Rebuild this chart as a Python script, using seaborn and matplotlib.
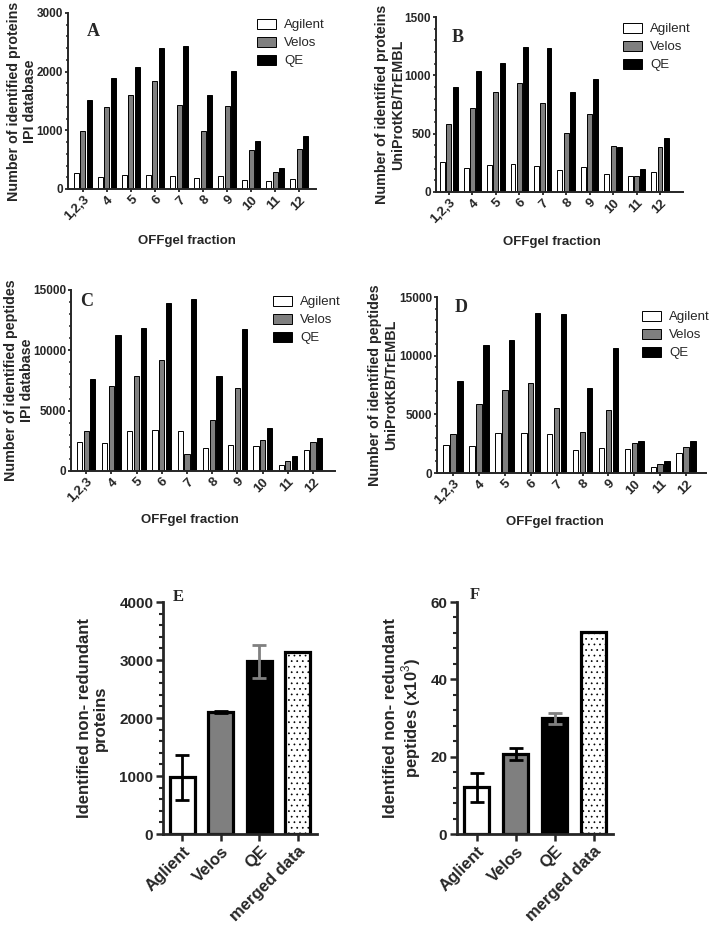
import pandas as pd
import matplotlib
matplotlib.use("Agg")
import matplotlib.pyplot as plt
from matplotlib.ticker import AutoMinorLocator, MultipleLocator
import seaborn as sns

# data
fractions = ['1,2,3', '4', '5', '6', '7', '8', '9', '10', '11', '12']
instruments = ['Agilent', 'Velos', 'QE']

# A: proteins, IPI database
a_agilent = [265, 210, 235, 245, 230, 195, 220, 155, 140, 175]
a_velos = [990, 1395, 1610, 1845, 1435, 995, 1410, 665, 290, 685]
a_qe = [1525, 1895, 2080, 2410, 2440, 1605, 2015, 815, 365, 905]
# B: proteins, UniProtKB/TrEMBL
b_agilent = [260, 205, 230, 240, 225, 190, 215, 155, 135, 170]
b_velos = [580, 720, 860, 935, 760, 505, 670, 395, 140, 385]
b_qe = [900, 1040, 1105, 1245, 1235, 855, 965, 390, 195, 460]
# C: peptides, IPI database
c_agilent = [2380, 2290, 3340, 3370, 3320, 1930, 2130, 2070, 500, 1710]
c_velos = [3290, 7020, 7870, 9170, 1440, 4200, 6900, 2600, 830, 2430]
c_qe = [7650, 11300, 11880, 13920, 14230, 7850, 11770, 3540, 1240, 2700]
# D: peptides, UniProtKB/TrEMBL
d_agilent = [2380, 2330, 3370, 3370, 3340, 1950, 2170, 2050, 520, 1730]
d_velos = [3330, 5870, 7050, 7650, 5580, 3530, 5400, 2540, 730, 2200]
d_qe = [7880, 10870, 11300, 13620, 13550, 7250, 10680, 2750, 1030, 2700]

# E / F: non-redundant totals
totals_cats = ['Aglient', 'Velos', 'QE', 'merged data']
e_proteins = [990, 2100, 2985, 3135]
e_err_low = [400, 15, 295, 0]
e_err_high = [380, 15, 280, 0]
f_peptides = [12.2, 20.7, 29.9, 52.3]
f_err_low = [3.8, 1.5, 1.4, 0]
f_err_high = [3.5, 1.5, 1.3, 0]

sns.set_style('ticks')
plt.rcParams['font.family'] = ['Liberation Sans', 'DejaVu Sans']
plt.rcParams['mathtext.fontset'] = 'custom'
plt.rcParams['mathtext.rm'] = 'Liberation Sans'
plt.rcParams['hatch.linewidth'] = 0.5

W, H = 716, 931
fig = plt.figure(figsize=(W / 100, H / 100), dpi=100)


def px_axes(l, r, t, b):
    return fig.add_axes([l / W, 1 - b / H, (r - l) / W, (b - t) / H])


def grouped(ax, ag, ve, qe, ymax, ystep, xlim, ylabel, ylab_x, xlab_x, xlab_y, leg_xy):
    df = pd.DataFrame({
        'fraction': fractions * 3,
        'instrument': [i for i in instruments for _ in fractions],
        'count': ag + ve + qe,
    })
    sns.barplot(data=df, x='fraction', y='count', hue='instrument',
                palette=['white', '#7f7f7f', 'black'], edgecolor='black',
                linewidth=0.7, width=0.8, gap=0.22, ax=ax)
    ax.set_ylim(0, ymax)
    ax.set_xlim(*xlim)
    ax.yaxis.set_major_locator(MultipleLocator(ystep))
    ax.yaxis.set_minor_locator(AutoMinorLocator(5))
    sns.despine(ax=ax)
    for s in ['left', 'bottom']:
        ax.spines[s].set_linewidth(1.4)
    ax.tick_params(axis='both', which='major', length=2.5, width=1.3, labelsize=8.5, pad=1)
    ax.tick_params(axis='y', which='minor', length=1.8, width=1.1)
    for lab in ax.get_yticklabels():
        lab.set_fontweight('bold')
    ax.set_xticks(range(len(fractions)))
    ax.set_xticklabels(fractions, rotation=45, ha='right', rotation_mode='anchor',
                       fontweight='bold', fontsize=9.5)
    ax.set_ylabel(ylabel, fontsize=10.3, fontweight='bold', linespacing=1.15)
    ax.yaxis.set_label_coords(ylab_x, 0.5)
    ax.set_xlabel('OFFgel fraction', fontsize=9.5, fontweight='bold')
    ax.xaxis.set_label_coords(xlab_x, xlab_y)
    sns.move_legend(ax, 'upper left', bbox_to_anchor=(leg_xy[0] / W, 1 - leg_xy[1] / H),
                    bbox_transform=fig.transFigure, frameon=False, title=None,
                    fontsize=9.5, handlelength=1.45, handleheight=0.75,
                    handletextpad=0.6, labelspacing=0.42, borderpad=0, borderaxespad=0)


axA = px_axes(68, 316, 13, 189)
grouped(axA, a_agilent, a_velos, a_qe, 3000, 1000, (-0.62, 9.7),
        'Number of identified proteins\nIPI database', -0.125, 0.48, -0.26, (257, 19))
axB = px_axes(436, 683, 17, 192)
grouped(axB, b_agilent, b_velos, b_qe, 1500, 500, (-0.55, 9.98),
        'Number of identified proteins\nUniProtKB/TrEMBL', -0.125, 0.47, -0.25, (623, 23))
axC = px_axes(71, 335, 290, 471)
grouped(axC, c_agilent, c_velos, c_qe, 15000, 5000, (-0.6, 9.87),
        'Number of identified peptides\nIPI database', -0.14, 0.45, -0.24, (273, 296))
axD = px_axes(437, 706, 297, 473)
grouped(axD, d_agilent, d_velos, d_qe, 15000, 5000, (-0.62, 9.77),
        'Number of identified peptides\nUniProtKB/TrEMBL', -0.145, 0.44, -0.244, (642, 311))


def totals(ax, vals, lo, hi, ymax, ystep, minor, ylabel, ylab_x):
    sns.barplot(x=totals_cats, y=vals, hue=totals_cats, legend=False,
                palette=['white', '#7f7f7f', 'black', 'white'], edgecolor='black',
                linewidth=2.3, width=0.66, ax=ax)
    ax.patches[3].set_hatch('...')
    err_colors = ['black', 'black', '#808080', 'black']
    for i in range(3):
        ax.errorbar(i, vals[i], yerr=[[lo[i]], [hi[i]]], fmt='none', ecolor=err_colors[i],
                    elinewidth=2.0, capsize=5, capthick=2.0, zorder=5)
    ax.set_ylim(0, ymax)
    ax.set_xlim(-0.5, 3.5)
    ax.yaxis.set_major_locator(MultipleLocator(ystep))
    ax.yaxis.set_minor_locator(MultipleLocator(minor))
    sns.despine(ax=ax)
    for s in ['left', 'bottom']:
        ax.spines[s].set_linewidth(2.0)
    ax.tick_params(axis='both', which='major', length=5, width=1.8, labelsize=11, pad=2)
    ax.tick_params(axis='y', which='minor', length=3, width=1.5)
    for lab in ax.get_yticklabels():
        lab.set_fontweight('bold')
    ax.set_xticks(range(4))
    ax.set_xticklabels(totals_cats, rotation=45, ha='right', rotation_mode='anchor',
                       fontweight='bold', fontsize=12)
    ax.set_ylabel(ylabel, fontsize=12, fontweight='bold', linespacing=1.05)
    ax.yaxis.set_label_coords(ylab_x, 0.5)


axE = px_axes(163, 317, 602, 834)
totals(axE, e_proteins, e_err_low, e_err_high, 4000, 1000, 200,
       'Identified non- redundant\nproteins', -0.36)
axF = px_axes(457, 613, 602, 834)
totals(axF, f_peptides, f_err_low, f_err_high, 60, 20, 4,
       'Identified non- redundant\npeptides (x10$^3$)', -0.22)

# panel letters
for letter, (x, y, size) in {'A': (93, 31, 13), 'B': (458, 37, 13), 'C': (87, 302, 13),
                             'D': (461, 308, 13), 'E': (178, 597, 12), 'F': (475, 595, 12)}.items():
    fig.text(x / W, 1 - y / H, letter, family=['Liberation Serif', 'DejaVu Serif'],
             fontweight='bold', fontsize=size, ha='center', va='center')

fig.savefig('out.png', dpi=100)
